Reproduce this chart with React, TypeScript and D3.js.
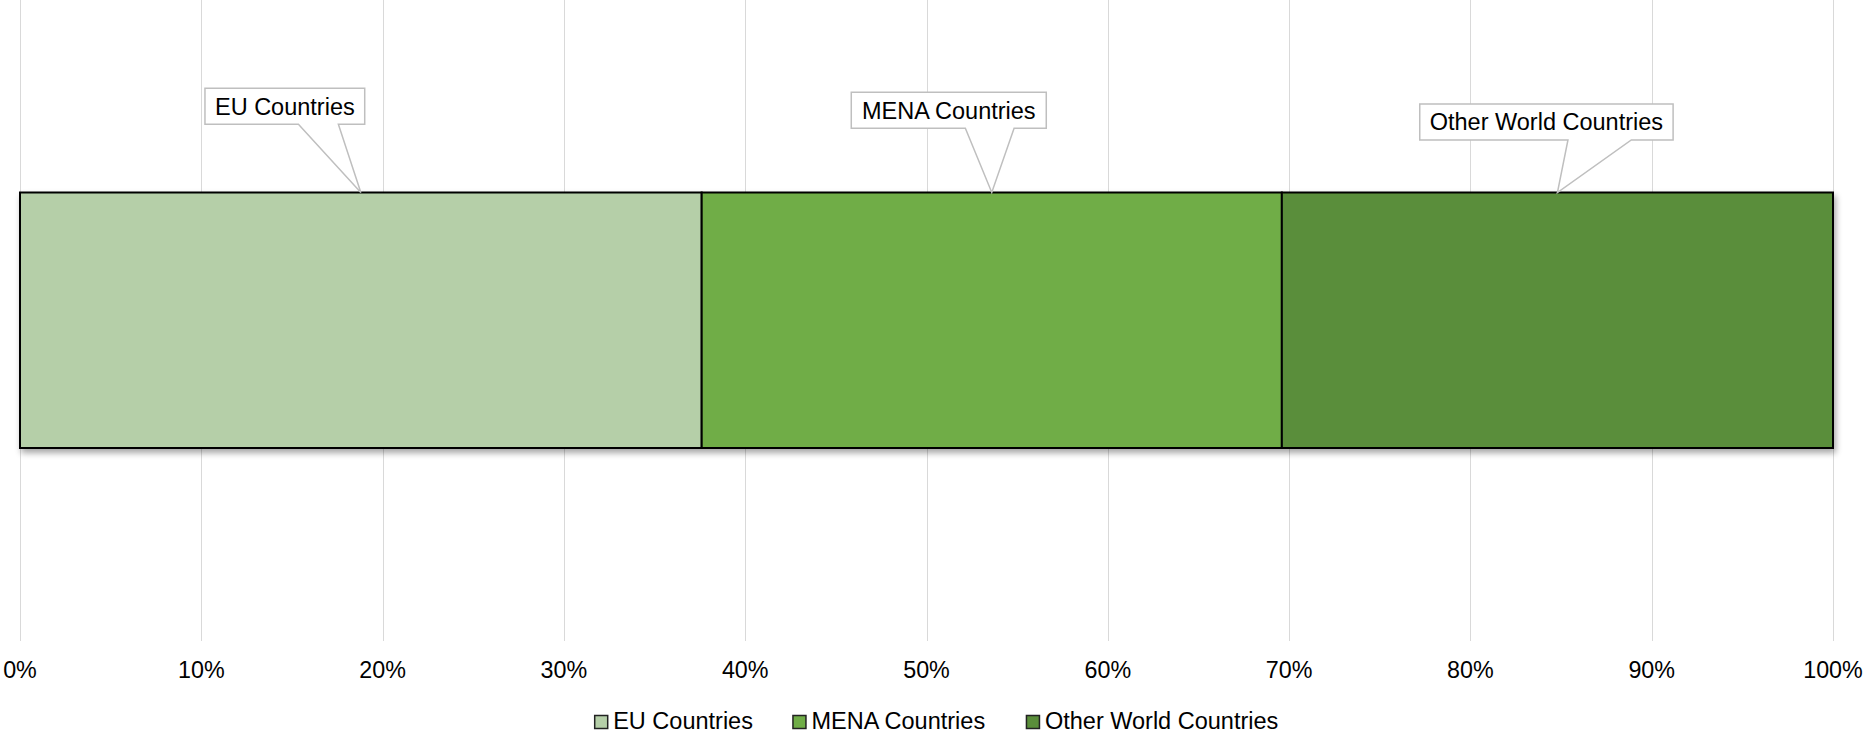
import React from "react";
import * as d3 from "d3";

const categories = ["EU Countries", "MENA Countries", "Other World Countries"];
const shares = [37.6, 32.0, 30.4];
const colors = ["#B5CFA8", "#70AD47", "#5A8E3A"];
const tickValues = [0, 10, 20, 30, 40, 50, 60, 70, 80, 90, 100];
// callout placement relative to the point on the bar (box centre offset, box top)
const labelDx = [-76, -43, -11];
const labelTop = [88.3, 92.3, 104];

const W = 1865;
const H = 733;
const FONT = "'Liberation Sans', Arial, sans-serif";
const FS = 23.5;

function measure(text: string, size = FS): number {
  if (typeof document === "undefined") return text.length * size * 0.55;
  const c = document.createElement("canvas");
  const ctx = c.getContext("2d");
  if (!ctx) return text.length * size * 0.55;
  ctx.font = `${size}px 'Liberation Sans', Arial, sans-serif`;
  return ctx.measureText(text).width;
}

export default function App() {
  const x = d3.scaleLinear().domain([0, 100]).range([20, 1833]);
  const y = d3.scaleBand().domain(["row"]).range([0, 641]).paddingInner(0).paddingOuter(0);
  const barTop = 192.5;
  const barBottom = 448;
  const gridTop = y.range()[0];
  const gridBottom = y.range()[1];

  const stack = d3.stack<any>().keys(categories)([
    Object.fromEntries(categories.map((c, i) => [c, shares[i]])),
  ]);

  // legend layout
  const sq = 13;
  const gapSqText = 5.5;
  const gapItems = 40;
  const widths = categories.map((c) => measure(c));
  const itemW = widths.map((w) => sq + gapSqText + w);
  const total = d3.sum(itemW) + gapItems * (categories.length - 1);
  let lx = 936.5 - total / 2;
  const legendX = itemW.map((w) => {
    const s = lx;
    lx += w + gapItems;
    return s;
  });

  return (
    <svg
      width={W}
      height={H}
      style={{ position: "absolute", left: 0, top: 0, display: "block", background: "#fff" }}
      fontFamily={FONT}
    >
      <defs>
        <filter id="shadow" x="-5%" y="-10%" width="110%" height="130%">
          <feGaussianBlur in="SourceAlpha" stdDeviation="3" />
          <feOffset dx="2" dy="4" result="off" />
          <feComponentTransfer>
            <feFuncA type="linear" slope="0.35" />
          </feComponentTransfer>
          <feMerge>
            <feMergeNode />
            <feMergeNode in="SourceGraphic" />
          </feMerge>
        </filter>
      </defs>
      <rect x={0} y={0} width={W} height={H} fill="#fff" />
      {/* gridlines */}
      {tickValues.map((t) => (
        <line
          key={t}
          x1={Math.round(x(t)) + 0.5}
          x2={Math.round(x(t)) + 0.5}
          y1={gridTop}
          y2={gridBottom}
          stroke="#D9D9D9"
          strokeWidth={1}
        />
      ))}
      {/* bars */}
      <g filter="url(#shadow)">
        {stack.map((s, i) => (
          <rect
            key={categories[i]}
            x={x(s[0][0])}
            y={barTop}
            width={x(s[0][1]) - x(s[0][0])}
            height={barBottom - barTop}
            fill={colors[i]}
            stroke="#000"
            strokeWidth={2}
          />
        ))}
      </g>
      {/* callouts */}
      {stack.map((s, i) => {
        const tipX = x((s[0][0] + s[0][1]) / 2);
        const tipY = barTop;
        const tw = measure(categories[i]);
        const bw = tw + 20;
        const bh = 36;
        const cx = tipX + labelDx[i];
        const x0 = cx - bw / 2;
        const x1 = cx + bw / 2;
        const y0 = labelTop[i];
        const y1 = y0 + bh;
        const b0 = x0 + bw * 0.585;
        const b1 = x0 + bw * 0.835;
        const d = `M${x0},${y0}H${x1}V${y1}H${b1}L${tipX},${tipY}L${b0},${y1}H${x0}Z`;
        return (
          <g key={"lab" + i}>
            <path d={d} fill="#fff" stroke="#BFBFBF" strokeWidth={1.5} />
            <text
              x={cx}
              y={y0 + bh / 2 + FS * 0.35}
              textAnchor="middle"
              fontSize={FS}
              fill="#000"
            >
              {categories[i]}
            </text>
          </g>
        );
      })}
      {/* axis labels */}
      {tickValues.map((t) => (
        <text key={"t" + t} x={x(t)} y={678} textAnchor="middle" fontSize={23.3} fill="#000">
          {d3.format(".0%")(t / 100)}
        </text>
      ))}
      {/* legend */}
      {categories.map((c, i) => (
        <g key={"lg" + i}>
          <rect
            x={legendX[i]}
            y={715.5}
            width={sq}
            height={sq}
            fill={colors[i]}
            stroke="#222"
            strokeWidth={1.5}
          />
          <text x={legendX[i] + sq + gapSqText} y={729} fontSize={FS} fill="#000">
            {c}
          </text>
        </g>
      ))}
    </svg>
  );
}
